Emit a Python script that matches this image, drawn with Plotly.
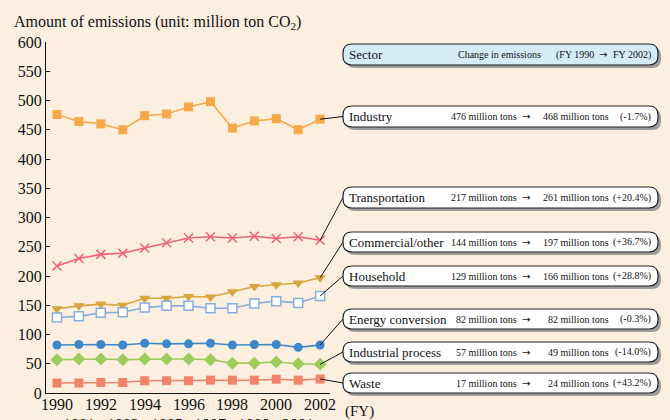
import plotly.graph_objects as go

# Fiscal years
years = list(range(1990, 2003))

# CO2 emissions by sector (million tons)
industry = [476, 464, 460, 450, 474, 477, 489, 498, 453, 465, 469, 450, 468]
transportation = [217, 230, 237, 239, 248, 257, 265, 267, 265, 268, 264, 267, 261]
commercial = [144, 149, 152, 150, 162, 162, 165, 164, 173, 182, 185, 188, 197]
household = [129, 131, 137, 138, 146, 149, 149, 145, 145, 153, 157, 154, 166]
energy_conversion = [82, 83, 83, 82, 85, 84, 84, 85, 82, 83, 83, 78, 82]
industrial_process = [57, 58, 58, 57, 58, 58, 58, 57, 51, 51, 53, 50, 49]
waste = [17, 17, 18, 18, 21, 21, 21, 22, 22, 22, 23.5, 22, 24]

sector_names = ["Industry", "Transportation", "Commercial/other", "Household",
                "Energy conversion", "Industrial process", "Waste"]
start_amounts = ["476", "217", "144", "129", "82", "57", "17"]
end_amounts = ["468", "261", "197", "166", "82", "49", "24"]
pct_changes = ["(-1.7%)", "(+20.4%)", "(+36.7%)", "(+28.8%)", "(-0.3%)", "(-14.0%)", "(+43.2%)"]

y_ticks = [0, 50, 100, 150, 200, 250, 300, 350, 400, 450, 500, 550, 600]

FONT = "Liberation Serif, Times New Roman, serif"
BG = "#FDEFE0"
W, H = 670, 420
ML, MR, MT, MB = 46, 340, 42, 27
PW, PH = W - ML - MR, H - MT - MB
X_RANGE = [1989.5, 2002.45]
Y_RANGE = [0, 600]


def px_x(p):
    return (p - ML) / PW


def px_y(p):
    return (H - MB - p) / PH


def data_to_paper(xv, yv):
    return ((xv - X_RANGE[0]) / (X_RANGE[1] - X_RANGE[0]),
            (yv - Y_RANGE[0]) / (Y_RANGE[1] - Y_RANGE[0]))


def rounded_path(left, top, right, bottom, r=9):
    x0, x1 = px_x(left), px_x(right)
    y0, y1 = px_y(top), px_y(bottom)
    rx, ry = r / PW, r / PH
    return (f"M{x0 + rx},{y0} L{x1 - rx},{y0} Q{x1},{y0} {x1},{y0 - ry} "
            f"L{x1},{y1 + ry} Q{x1},{y1} {x1 - rx},{y1} "
            f"L{x0 + rx},{y1} Q{x0},{y1} {x0},{y1 + ry} "
            f"L{x0},{y0 - ry} Q{x0},{y0} {x0 + rx},{y0} Z")


series = [
    (industry, "#F6A94B", dict(symbol="square", size=9, color="#F6A94B")),
    (transportation, "#EC6279", dict(symbol="x-thin-open", size=9,
                                      line=dict(color="#EC6279", width=1.5))),
    (commercial, "#D6A63D", dict(symbol="triangle-down", size=10, color="#D6A63D")),
    (household, "#86AEDD", dict(symbol="square", size=9, color="white",
                                 line=dict(color="#86AEDD", width=1.5))),
    (energy_conversion, "#3C88C9", dict(symbol="circle", size=9, color="#3C88C9")),
    (industrial_process, "#9DCC5C", dict(symbol="diamond", size=10, color="#9DCC5C")),
    (waste, "#F0836A", dict(symbol="square", size=9, color="#F0836A")),
]

fig = go.Figure()
for vals, col, mk in series:
    fig.add_trace(go.Scatter(x=years, y=vals, mode="lines+markers",
                             line=dict(color=col, width=1.6), marker=mk,
                             cliponaxis=False, showlegend=False))

shapes = []
annotations = []

BOX_L, BOX_R = 343, 658
TXT_NAME, TXT_A, TXT_ARROW, TXT_B, TXT_PCT = 347, 519, 526, 611, 653
SMALL = dict(size=10, family=FONT, color="#111")
NAME = dict(size=13, family=FONT, color="#111")
ARROW = dict(size=10, family="DejaVu Sans", color="#111")

# header box
hdr = (44, 65)
shapes.append(dict(type="path", xref="paper", yref="paper",
                   path=rounded_path(BOX_L + 3, hdr[0] + 3, BOX_R + 3, hdr[1] + 3),
                   fillcolor="#9C9C9C", line=dict(width=0), layer="above"))
shapes.append(dict(type="path", xref="paper", yref="paper",
                   path=rounded_path(BOX_L, hdr[0], BOX_R, hdr[1]),
                   fillcolor="#D4ECF8", line=dict(color="#222222", width=1.2), layer="above"))
hmid = px_y((hdr[0] + hdr[1]) / 2)
annotations.append(dict(text="Sector", x=px_x(TXT_NAME), y=hmid, xanchor="left",
                        yanchor="middle", font=NAME))
annotations.append(dict(text="Change in emissions", x=px_x(543), y=hmid, xanchor="right",
                        yanchor="middle", font=SMALL))
annotations.append(dict(text="(FY 1990", x=px_x(596), y=hmid, xanchor="right",
                        yanchor="middle", font=SMALL))
annotations.append(dict(text="→", x=px_x(603), y=hmid, xanchor="center",
                        yanchor="middle", font=ARROW))
annotations.append(dict(text="FY 2002)", x=px_x(TXT_PCT), y=hmid, xanchor="right",
                        yanchor="middle", font=SMALL))

box_rows = [(106, 127), (187, 208), (232, 252), (266, 286), (309, 329), (342, 362), (373, 393)]

for i, (top, bot) in enumerate(box_rows):
    mid = (top + bot) / 2
    # leader line from the 2002 point to the box
    sx, sy = data_to_paper(years[-1], series[i][0][-1])
    shapes.append(dict(type="line", xref="paper", yref="paper", x0=sx, y0=sy,
                       x1=px_x(BOX_L), y1=px_y(mid), line=dict(color="#111", width=1),
                       layer="above"))
    shapes.append(dict(type="path", xref="paper", yref="paper",
                       path=rounded_path(BOX_L + 3, top + 3, BOX_R + 3, bot + 3),
                       fillcolor="#9C9C9C", line=dict(width=0), layer="above"))
    shapes.append(dict(type="path", xref="paper", yref="paper",
                       path=rounded_path(BOX_L, top, BOX_R, bot),
                       fillcolor="white", line=dict(color="#222222", width=1.2), layer="above"))
    ym = px_y(mid)
    annotations.append(dict(text=sector_names[i], x=px_x(TXT_NAME), y=ym, xanchor="left",
                            yanchor="middle", font=NAME))
    annotations.append(dict(text=f"{start_amounts[i]} million tons", x=px_x(TXT_A), y=ym,
                            xanchor="right", yanchor="middle", font=SMALL))
    annotations.append(dict(text="→", x=px_x(TXT_ARROW), y=ym, xanchor="center",
                            yanchor="middle", font=ARROW))
    annotations.append(dict(text=f"{end_amounts[i]} million tons", x=px_x(TXT_B), y=ym,
                            xanchor="right", yanchor="middle", font=SMALL))
    annotations.append(dict(text=pct_changes[i], x=px_x(TXT_PCT), y=ym, xanchor="right",
                            yanchor="middle", font=SMALL))

annotations.append(dict(text="Amount of emissions (unit: million ton CO<sub>2</sub>)",
                        x=px_x(12), y=px_y(22), xanchor="left", yanchor="middle",
                        font=dict(size=16, family=FONT, color="#111")))
annotations.append(dict(text="(FY)", x=px_x(343), y=px_y(411), xanchor="left",
                        yanchor="middle", font=dict(size=15, family=FONT, color="#111")))

for a in annotations:
    a.update(xref="paper", yref="paper", showarrow=False)

# year labels in two staggered rows: even years on top, odd years below
for yr in years:
    annotations.append(dict(text=str(yr), x=yr, xref="x", yref="paper",
                            y=px_y(404 if yr % 2 == 0 else 424), xanchor="center",
                            yanchor="middle", showarrow=False,
                            font=dict(size=16, family=FONT, color="#111")))

fig.update_layout(
    width=W, height=H,
    margin=dict(l=ML, r=MR, t=MT, b=MB, pad=0, autoexpand=False),
    paper_bgcolor=BG, plot_bgcolor=BG,
    shapes=shapes, annotations=annotations,
    font=dict(family=FONT, color="#111"),
)
fig.update_xaxes(range=X_RANGE, tickvals=years, showticklabels=False,
                 automargin=False,
                 showgrid=False, zeroline=False, showline=True, linecolor="#111",
                 linewidth=1, ticks="")
fig.update_yaxes(range=Y_RANGE, tickvals=y_ticks, showgrid=False, zeroline=False,
                 automargin=False,
                 showline=True, linecolor="#111", linewidth=1, ticks="inside",
                 ticklen=4, tickcolor="#111",
                 tickfont=dict(size=16, family=FONT, color="#111"))

fig.write_html("out.html")
